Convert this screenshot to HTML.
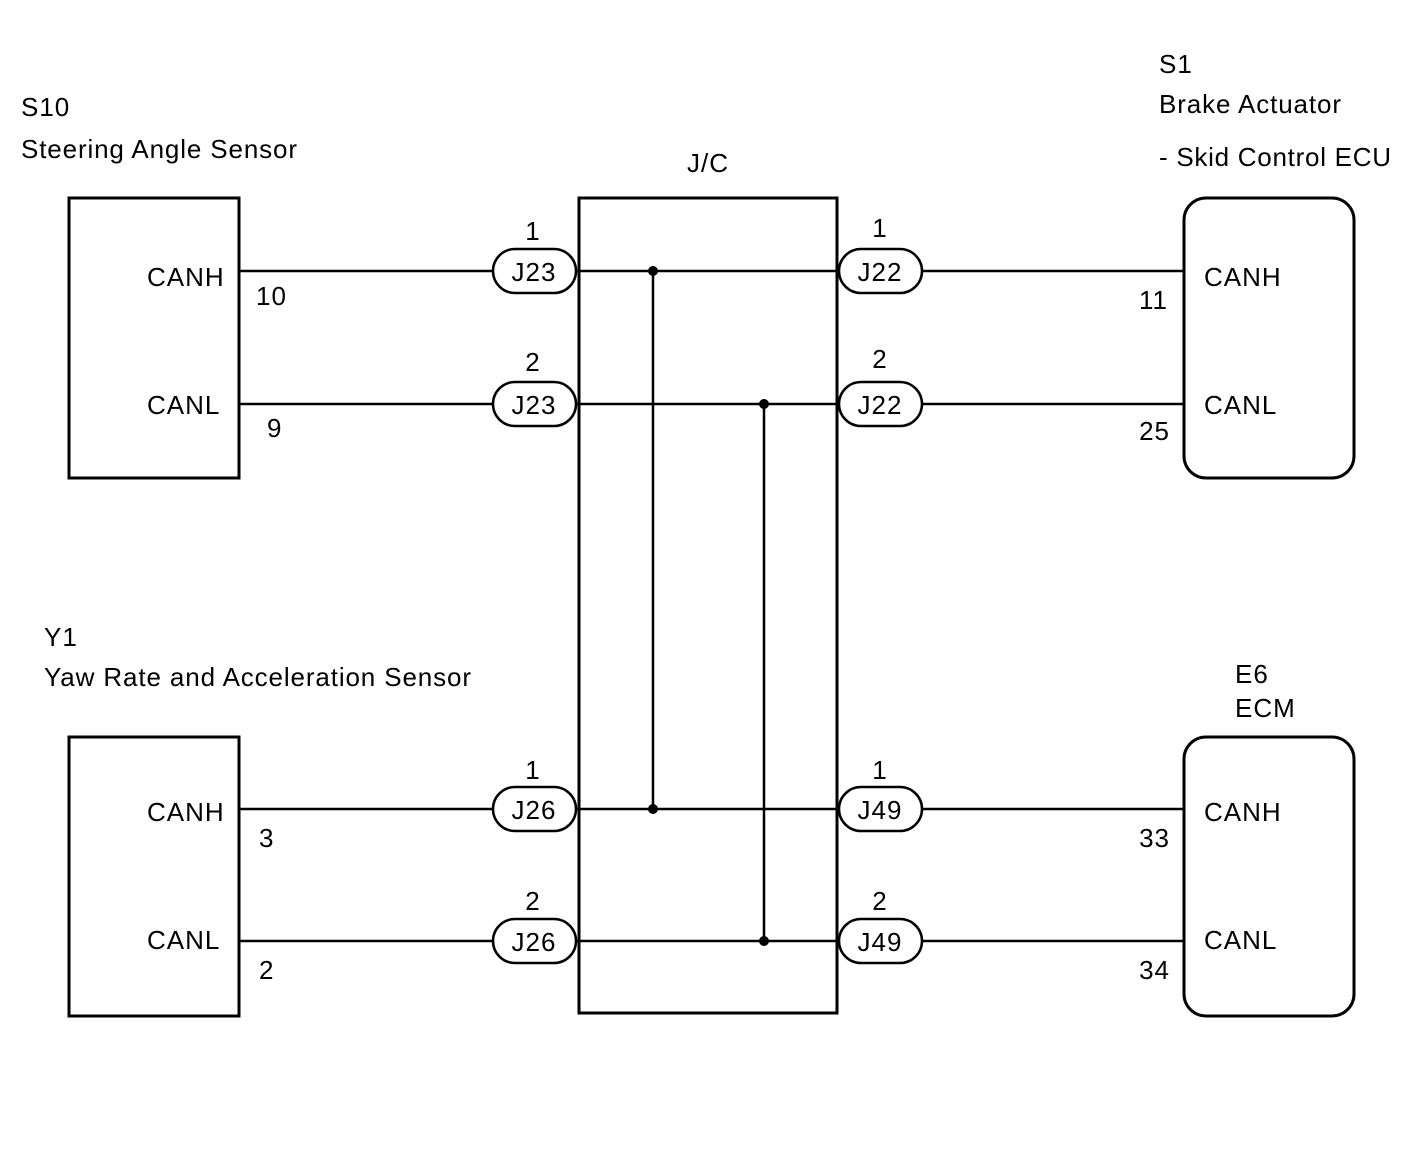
<!DOCTYPE html>
<html><head><style>html,body{margin:0;padding:0;background:#fff;}</style></head>
<body>
<svg width="1424" height="1160" xmlns="http://www.w3.org/2000/svg" font-family="Liberation Sans, sans-serif" font-size="26" fill="#000" letter-spacing="1">
<rect width="1424" height="1160" fill="#fff"/>
<g fill="none" stroke="#000" stroke-width="3">
<rect x="69" y="198" width="170" height="280"/>
<rect x="69" y="737" width="170" height="279"/>
<rect x="579" y="198" width="258" height="815"/>
<rect x="1184" y="198" width="170" height="280" rx="22"/>
<rect x="1184" y="737" width="170" height="279" rx="22"/>
</g>
<g stroke="#000" stroke-width="2.5">
<line x1="239" y1="271" x2="1184" y2="271"/>
<line x1="239" y1="404" x2="1184" y2="404"/>
<line x1="239" y1="809" x2="1184" y2="809"/>
<line x1="239" y1="941" x2="1184" y2="941"/>
<line x1="653" y1="271" x2="653" y2="809"/>
<line x1="764" y1="404" x2="764" y2="941"/>
</g>
<g fill="#000"><circle cx="653" cy="271" r="5"/><circle cx="653" cy="809" r="5"/><circle cx="764" cy="404" r="5"/><circle cx="764" cy="941" r="5"/></g>
<g fill="#fff" stroke="#000" stroke-width="2.5">
<rect x="493" y="249" width="83" height="44" rx="22"/>
<rect x="493" y="382" width="83" height="44" rx="22"/>
<rect x="493" y="787" width="83" height="44" rx="22"/>
<rect x="493" y="919" width="83" height="44" rx="22"/>
<rect x="839" y="249" width="83" height="44" rx="22"/>
<rect x="839" y="382" width="83" height="44" rx="22"/>
<rect x="839" y="787" width="83" height="44" rx="22"/>
<rect x="839" y="919" width="83" height="44" rx="22"/>
</g>
<g text-anchor="middle">
<text x="534" y="281">J23</text><text x="534" y="414">J23</text>
<text x="534" y="819">J26</text><text x="534" y="951">J26</text>
<text x="880" y="281">J22</text><text x="880" y="414">J22</text>
<text x="880" y="819">J49</text><text x="880" y="951">J49</text>
<text x="533" y="240">1</text><text x="533" y="371">2</text>
<text x="533" y="779">1</text><text x="533" y="910">2</text>
<text x="880" y="237">1</text><text x="880" y="368">2</text>
<text x="880" y="779">1</text><text x="880" y="910">2</text>
<text x="708" y="172">J/C</text>
</g>
<text x="21" y="116">S10</text>
<text x="21" y="158" textLength="277" lengthAdjust="spacing">Steering Angle Sensor</text>
<text x="1159" y="73">S1</text>
<text x="1159" y="113" textLength="183" lengthAdjust="spacing">Brake Actuator</text>
<text x="1159" y="166" textLength="233" lengthAdjust="spacing">- Skid Control ECU</text>
<text x="44" y="646">Y1</text>
<text x="44" y="686" textLength="428" lengthAdjust="spacing">Yaw Rate and Acceleration Sensor</text>
<text x="1235" y="683">E6</text>
<text x="1235" y="717">ECM</text>
<text x="147" y="286">CANH</text><text x="147" y="414">CANL</text>
<text x="147" y="821">CANH</text><text x="147" y="949">CANL</text>
<text x="256" y="305">10</text><text x="267" y="437">9</text>
<text x="259" y="847">3</text><text x="259" y="979">2</text>
<text x="1204" y="286">CANH</text><text x="1204" y="414">CANL</text>
<text x="1204" y="821">CANH</text><text x="1204" y="949">CANL</text>
<g text-anchor="end">
<text x="1168" y="309">11</text><text x="1170" y="440">25</text>
<text x="1170" y="847">33</text><text x="1170" y="979">34</text>
</g>
</svg>
</body></html>
